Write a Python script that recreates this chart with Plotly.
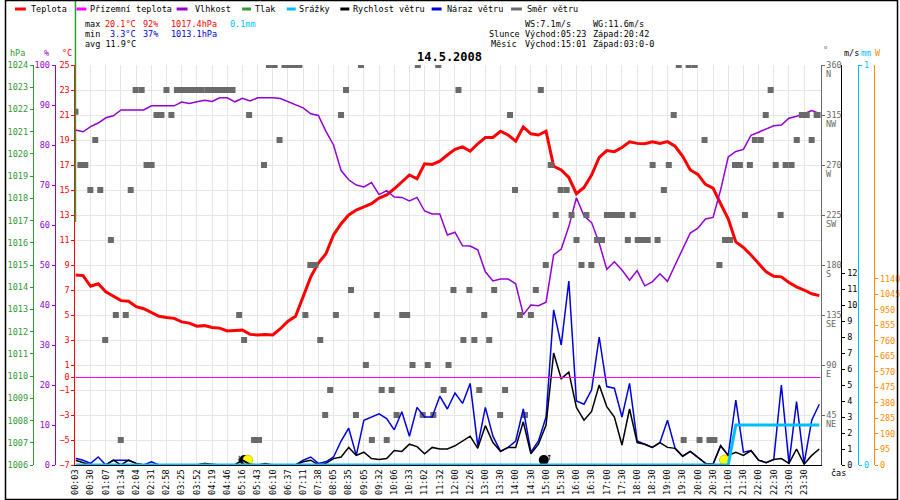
"""
meteo day chart 14.5.2008 - temperature, humidity, wind, rain, direction
"""
import plotly.graph_objects as go

# ---- data (one sample every half label step) ----
time_labels = ["00:03", "00:30", "01:07", "01:34", "02:04", "02:31", "02:58", "03:25", "03:52",
               "04:19", "04:46", "05:16", "05:43", "06:10", "06:37", "07:11", "07:38", "08:05",
               "08:35", "09:05", "09:32", "10:06", "10:33", "11:02", "11:32", "12:00", "12:26",
               "13:00", "13:30", "14:00", "14:30", "15:00", "15:30", "16:00", "16:30", "17:00",
               "17:30", "18:00", "18:30", "19:00", "19:30", "20:00", "20:30", "21:00", "21:30",
               "22:00", "22:30", "23:00", "23:30"]

temp = [8.2, 8.15, 7.3, 7.5, 6.85, 6.5, 6.15, 6.1, 5.67, 5.5,
        5.2, 4.9, 4.8, 4.73, 4.45, 4.35, 4.1, 4.15, 4.0, 3.95,
        3.72, 3.75, 3.8, 3.45, 3.4, 3.45, 3.4, 3.9, 4.5, 4.9,
        6.5, 8.05, 9.15, 9.9, 11.4, 12.3, 13.0, 13.4, 13.65, 13.9,
        14.35, 14.6, 15.1, 15.65, 16.2, 15.9, 17.1, 17.05, 17.3, 17.8,
        18.25, 18.45, 18.1, 18.7, 19.2, 19.2, 19.7, 19.4, 18.9, 20.05,
        19.5, 19.4, 19.7, 16.9, 16.6, 16.0, 14.7, 15.2, 16.2, 17.6,
        18.15, 18.07, 18.4, 18.85, 18.73, 18.7, 18.85, 18.73, 18.87, 18.5,
        17.7, 16.6, 16.25, 15.45, 15.15, 13.9, 12.7, 10.85, 10.4, 9.8,
        9.1, 8.45, 8.1, 8.05, 7.6, 7.25, 7.0, 6.7, 6.55]

humidity = [83.75, 83.3, 84.6, 85.5, 86.8, 87.3, 88.75, 88.75, 88.75, 88.75,
            89.8, 89.8, 89.8, 89.8, 90.75, 90.4, 90.8, 91.2, 90.9, 91.8,
            91.8, 90.8, 91.7, 91.0, 91.8, 91.8, 91.8, 91.6, 90.8, 90.0,
            89.3, 87.8, 87.4, 83.4, 80.0, 73.6, 71.3, 70.0, 69.5, 70.6,
            67.6, 68.6, 67.0, 66.9, 66.0, 66.9, 63.5, 62.75, 62.75, 57.5,
            58.2, 54.8, 54.75, 53.8, 48.3, 46.0, 46.5, 46.5, 45.3, 37.6,
            40.0, 39.8, 40.7, 52.5, 54.0, 59.6, 66.8, 62.3, 60.6, 55.5,
            48.9, 50.8, 48.75, 46.2, 48.6, 44.8, 45.8, 47.8, 45.9, 50.0,
            54.0, 58.0, 59.2, 61.5, 61.9, 68.8, 77.0, 78.4, 78.9, 82.4,
            83.2, 84.0, 84.8, 85.0, 86.7, 87.2, 87.8, 88.6, 87.9]

wind_speed = [0.3, 0.15, 0, 0, 0, 0.3, 0, 0.3, 0.1, 0,
              0, 0, 0, 0, 0, 0, 0, 0.1, 0.05, 0,
              0, 0, 0.3, 0.05, 0, 0.1, 0, 0, 0, 0,
              0.2, 0.3, 0, 0.1, 0.4, 0.5, 1.1, 0.6, 0.8, 0.4,
              0.35, 0.4, 0.9, 0.85, 1.3, 1.15, 0.7, 1.1, 1.0, 1.0,
              1.2, 1.5, 1.8, 1.04, 2.46, 1.4, 0.85, 1.1, 1.1, 2.7,
              0.7, 1.3, 2.5, 7.0, 5.4, 5.8, 3.6, 2.8, 3.35, 5.0,
              3.65, 3.0, 1.25, 3.5, 1.4, 1.3, 1.1, 1.4, 1.1, 1.04,
              0.55, 0.85, 0.45, 0.1, 0.05, 1.2, 0.6, 0.8, 0.6, 0.9,
              0.3, 0.15, 0.35, 0.4, 0.1, 1.0, 0.05, 0.6, 1.0]

wind_gust = [0.42, 0.3, 0.1, 0.5, 0, 0.3, 0.3, 0.3, 0.1, 0,
             0.2, 0, 0, 0, 0, 0, 0, 0.1, 0, 0,
             0, 0, 0.3, 0, 0, 0, 0, 0, 0, 0,
             0.3, 0.5, 0.1, 0.2, 0.5, 1.5, 2.3, 0.6, 2.8, 3.0,
             3.2, 2.9, 2.2, 3.33, 1.8, 3.6, 3.0, 3.0, 4.3, 3.5,
             4.5, 3.85, 5.1, 1.2, 3.6, 1.8, 0.85, 1.1, 1.5, 3.5,
             0.8, 1.5, 3.0, 9.7, 7.5, 11.5, 4.0, 3.8, 4.7, 8.0,
             4.9, 4.8, 3.0, 5.1, 1.5, 1.3, 1.1, 1.4, 2.8, 1.04,
             0.55, 0.85, 0.45, 0.1, 0.05, 1.2, 0.6, 4.06, 0.8, 0.9,
             0.3, 0.15, 0.35, 5.0, 0.1, 3.96, 0.1, 2.8, 3.8]

rain = [0, 0, 0, 0, 0, 0, 0, 0, 0, 0,
        0, 0, 0, 0, 0, 0, 0, 0, 0, 0,
        0, 0, 0, 0, 0, 0, 0, 0, 0, 0,
        0, 0, 0, 0, 0, 0, 0, 0, 0, 0,
        0, 0, 0, 0, 0, 0, 0, 0, 0, 0,
        0, 0, 0, 0, 0, 0, 0, 0, 0, 0,
        0, 0, 0, 0, 0, 0, 0, 0, 0, 0,
        0, 0, 0, 0, 0, 0, 0, 0, 0, 0,
        0, 0, 0, 0, 0, 0, 0, 0.1, 0.1, 0.1,
        0.1, 0.1, 0.1, 0.1, 0.1, 0.1, 0.1, 0.1, 0.1]

# wind direction, own sampling (sample position, degrees)
dir_time = [0.0, 0.65, 1.3, 1.96, 2.61, 3.27, 3.92, 4.67, 5.32, 5.97,
            6.63, 7.28, 7.93, 8.72, 9.37, 10.03, 10.68, 11.33, 11.99, 12.64,
            13.37, 14.03, 14.68, 15.33, 15.99, 16.64, 17.42, 18.08, 18.73, 19.39,
            20.04, 20.69, 21.57, 22.22, 22.88, 23.53, 24.18, 24.84, 25.49, 26.24,
            26.89, 27.54, 28.2, 28.85, 29.5, 30.29, 30.94, 31.59, 32.25, 32.9,
            33.56, 34.31, 34.99, 35.65, 36.3, 36.95, 37.61, 38.26, 39.05, 39.7,
            40.35, 41.01, 41.66, 42.31, 43.05, 43.7, 44.41, 45.1, 45.75, 46.41,
            47.15, 47.8, 48.5, 49.15, 49.8, 50.46, 51.11, 51.9, 52.55, 53.2,
            53.86, 54.51, 55.16, 55.95, 56.6, 57.25, 57.91, 58.56, 59.22, 60.0,
            60.65, 61.31, 61.96, 62.61, 63.27, 63.92, 64.71, 65.36, 66.01, 66.67,
            67.32, 67.97, 68.72, 69.37, 70.03, 70.68, 71.33, 71.99, 72.77, 73.42,
            74.08, 74.73, 75.39, 76.04, 76.69, 77.52, 78.17, 78.82, 79.48, 80.13,
            80.78, 81.57, 82.22, 82.88, 83.53, 84.18, 84.84, 85.58, 86.24, 86.89,
            87.54, 88.2, 88.85, 89.5, 90.29, 90.94, 91.59, 92.25, 92.9, 93.56,
            94.34, 95.03, 95.69, 96.34, 96.99, 97.65, 98.1]

dir_deg = [318, 270, 270, 247.5, 292.5, 247.5, 112.5, 202.5, 135, 22.5,
           135, 247.5, 337.5, 337.5, 270, 270, 315, 315, 337.5, 315,
           337.5, 337.5, 337.5, 337.5, 337.5, 337.5, 337.5, 337.5, 337.5, 337.5,
           337.5, 337.5, 135, 112.5, 315, 22.5, 22.5, 270, 360, 360,
           292.5, 360, 360, 360, 360, 135, 180, 180, 112.5, 45,
           67.5, 135, 315, 337.5, 157.5, 45, 360, 90, 22.5, 135,
           67.5, 22.5, 67.5, 45, 135, 135, 90, 360, 45, 90,
           45, 360, 67.5, 90, 157.5, 337.5, 112.5, 157.5, 112.5, 67.5,
           135, 112.5, 157.5, 45, 67.5, 315, 247.5, 135, 45, 135,
           157.5, 337.5, 180, 270, 225, 247.5, 247.5, 225, 202.5, 180,
           225, 180, 202.5, 202.5, 225, 225, 225, 225, 202.5, 225,
           202.5, 202.5, 202.5, 270, 202.5, 247.5, 270, 315, 360, 22.5,
           360, 360, 22.5, 292.5, 22.5, 22.5, 180, 202.5, 202.5, 270,
           270, 225, 270, 292.5, 292.5, 315, 337.5, 270, 225, 270,
           270, 292.5, 315, 315, 292.5, 315, 315]

# sun / moon events (sample position)
sunrise_at = 22.6
moonrise_at = 61.7
sunset_at = 85.5

temp_ticks = [25, 23, 21, 19, 17, 15, 13, 11, 9, 7, 5, 3, 1, 0, -1, -3, -5, -7]
pressure_ticks = list(range(1006, 1025))
humidity_ticks = list(range(0, 101, 10))
dir_ticks = [45, 90, 135, 180, 225, 270, 315, 360]
compass = ["NE", "E", "SE", "S", "SW", "W", "NW", "N"]
wind_ticks = list(range(0, 13))
rain_ticks = [0, 1]
power_ticks = [0, 95, 190, 285, 380, 475, 570, 665, 760, 855, 950, 1045, 1140]

# ---- styles ----
FONT = "DejaVu Sans Mono"
RED = "#ff0000"
MAGENTA = "#ff00ff"
PURPLE = "#9400d3"
GREEN = "#339933"
CYAN = "#00bfff"
BLUE = "#0000dd"
GRAY = "#6a6a6a"
ORANGE = "#ff8c00"
GRID = "#e6e6e6"

W, H = 900, 500
TOP, BOTTOM = 65, 465


def px(x):
    return x / W


def py(y):
    return (BOTTOM - y) / (BOTTOM - TOP)


samples = list(range(len(temp)))

fig = go.Figure()
fig.add_trace(go.Scatter(x=dir_time, y=dir_deg, yaxis="y4", mode="markers",
                         marker=dict(symbol="square", size=6, color=GRAY)))
fig.add_trace(go.Scatter(x=samples, y=rain, yaxis="y6", mode="lines",
                         line=dict(color=CYAN, width=3)))
fig.add_trace(go.Scatter(x=samples, y=wind_gust, yaxis="y5", mode="lines",
                         line=dict(color=BLUE, width=1.5)))
fig.add_trace(go.Scatter(x=samples, y=wind_speed, yaxis="y5", mode="lines",
                         line=dict(color="black", width=1.5)))
fig.add_trace(go.Scatter(x=samples, y=humidity, yaxis="y3", mode="lines",
                         line=dict(color=PURPLE, width=1.5)))
fig.add_trace(go.Scatter(x=samples, y=temp, yaxis="y", mode="lines",
                         line=dict(color=RED, width=3)))
# sun and moon symbols
fig.add_trace(go.Scatter(x=[sunrise_at - 0.35, moonrise_at], y=[-6.6, -6.6], mode="markers",
                         marker=dict(size=10, color="black"), cliponaxis=False))
fig.add_trace(go.Scatter(x=[sunrise_at + 0.1, sunset_at], y=[-6.6, -6.6], mode="markers",
                         marker=dict(size=10, color="#ffff00", line=dict(color="#999900", width=0.5)),
                         cliponaxis=False))


def yax(rng, ticks, color, **kw):
    d = dict(range=rng, tickvals=ticks, color=color, showline=True, linecolor=color,
             linewidth=1, ticks="outside", ticklen=3, tickcolor=color, showgrid=False,
             zeroline=False, tickfont=dict(family=FONT, size=8.5, color=color))
    d.update(kw)
    return d


fig.update_layout(
    width=W, height=H,
    margin=dict(l=0, r=0, t=TOP, b=H - BOTTOM),
    paper_bgcolor="white", plot_bgcolor="white",
    showlegend=False,
    font=dict(family=FONT, size=8.5, color="black"),
    xaxis=dict(domain=[px(71), px(822)], range=[0, 98.17],
               tickvals=list(range(0, 97, 2)), ticktext=time_labels, tickangle=-90,
               showgrid=True, gridcolor=GRID, gridwidth=1, zeroline=False,
               showline=True, linecolor="black", linewidth=1, ticks="",
               tickfont=dict(family=FONT, size=8.5, color="black")),
    yaxis=yax([-7, 25], temp_ticks, RED, showgrid=True, gridcolor=GRID),
    yaxis2=yax([1006, 1024], pressure_ticks, GREEN, overlaying="y", anchor="free",
               position=px(28), side="left"),
    yaxis3=yax([0, 100], humidity_ticks, PURPLE, overlaying="y", anchor="free",
               position=px(50), side="left"),
    yaxis4=yax([0, 360], dir_ticks, GRAY, overlaying="y", anchor="x", side="right"),
    yaxis5=yax([0, 25], wind_ticks, "black", overlaying="y", anchor="free",
               position=px(843), side="right"),
    yaxis6=yax([0, 1], rain_ticks, CYAN, overlaying="y", anchor="free",
               position=px(860), side="right"),
    yaxis7=yax([0, 2450], power_ticks, ORANGE, overlaying="y", anchor="free",
               position=px(876), side="right"),
)
# dummy traces so the empty axes are drawn
fig.add_trace(go.Scatter(x=[None], y=[None], yaxis="y2"))
fig.add_trace(go.Scatter(x=[None], y=[None], yaxis="y7"))

# 0 °C line (ground temperature) and pressure line
fig.add_shape(type="line", xref="x", yref="y", x0=0, x1=98.17, y0=0, y1=0,
              line=dict(color=MAGENTA, width=1))
fig.add_shape(type="line", xref="paper", yref="paper", x0=px(71), x1=px(71),
              y0=py(222), y1=py(0), line=dict(color=GREEN, width=1.5))
# frame
fig.add_shape(type="rect", xref="paper", yref="paper", x0=px(0.5), x1=px(899.5),
              y0=py(499.5), y1=py(0.5), line=dict(color="black", width=1.5))


def txt(x, y, s, color="black", size=8.5, anchor="left", ref=("paper", "paper"), yshift=0):
    fig.add_annotation(x=x, y=y, xref=ref[0], yref=ref[1], text=s, showarrow=False,
                       xanchor=anchor, yanchor="middle", borderpad=0, yshift=yshift,
                       font=dict(family=FONT, size=size, color=color))


# legend row
legend = [(10, 21, 25, "Teplota", RED), (72, 82, 85, "Přízemní teplota", MAGENTA),
          (173, 184, 190, "Vlhkost", PURPLE), (239, 248, 251, "Tlak", GREEN),
          (284, 293, 295, "Srážky", CYAN), (338, 347, 350, "Rychlost větru", "black"),
          (430, 440, 444, "Náraz větru", BLUE), (510, 521, 525, "Směr větru", GRAY)]
for x0, x1, tx, name, col in legend:
    fig.add_shape(type="line", xref="paper", yref="paper", x0=px(x0), x1=px(x1),
                  y0=py(9), y1=py(9), line=dict(color=col, width=3))
    txt(px(tx), py(9), name)

# stats block
txt(px(80), py(24), "max")
txt(px(100), py(24), "20.1°C", RED)
txt(px(138), py(24), "92%", RED)
txt(px(166), py(24), "1017.4hPa", RED)
txt(px(226), py(24), "0.1mm", CYAN)
txt(px(80), py(34), "min")
txt(px(105), py(34), "3.3°C", BLUE)
txt(px(138), py(34), "37%", BLUE)
txt(px(166), py(34), "1013.1hPa", BLUE)
txt(px(80), py(43.5), "avg 11.9°C")

txt(px(522.7), py(24), "WS:7.1m/s")
txt(px(592), py(24), "WG:11.6m/s")
txt(px(487), py(34), "Slunce")
txt(px(522.7), py(34), "Východ:05:23")
txt(px(592), py(34), "Západ:20:42")
txt(px(489), py(43.5), "Měsíc")
txt(px(522.7), py(43.5), "Východ:15:01")
txt(px(592), py(43.5), "Západ:03:0-0")

txt(px(448), py(57), "<b>14.5.2008</b>", size=12, anchor="center")

# axis titles
txt(px(13), py(53), "hPa", GREEN, anchor="center")
txt(px(42), py(53), "%", PURPLE, anchor="center")
txt(px(62), py(53), "°C", RED, anchor="center")
txt(px(827), py(50), "°", GRAY, anchor="center")
txt(px(853), py(53), "m/s", "black", anchor="center")
txt(px(868), py(53), "mm", CYAN, anchor="center")
txt(px(880), py(53), "W", ORANGE, anchor="center")
txt(px(840), py(473), "čas", anchor="center")

# compass letters under direction ticks
for deg, name in zip(dir_ticks, compass):
    txt(px(826), deg, name, GRAY, ref=("paper", "y4"), yshift=-8.5)

# rise / set arrows
txt(moonrise_at + 0.7, -6.3, "↑", ref=("x", "y"), anchor="center", size=10)
txt(sunrise_at - 1.1, -6.4, "↓", ref=("x", "y"), anchor="center", size=10)

# the page body has a default margin; drop it so the figure sits at 0,0
fig.write_html("out.html", config={"displayModeBar": False},
               post_script="document.body.style.margin='0px';")
